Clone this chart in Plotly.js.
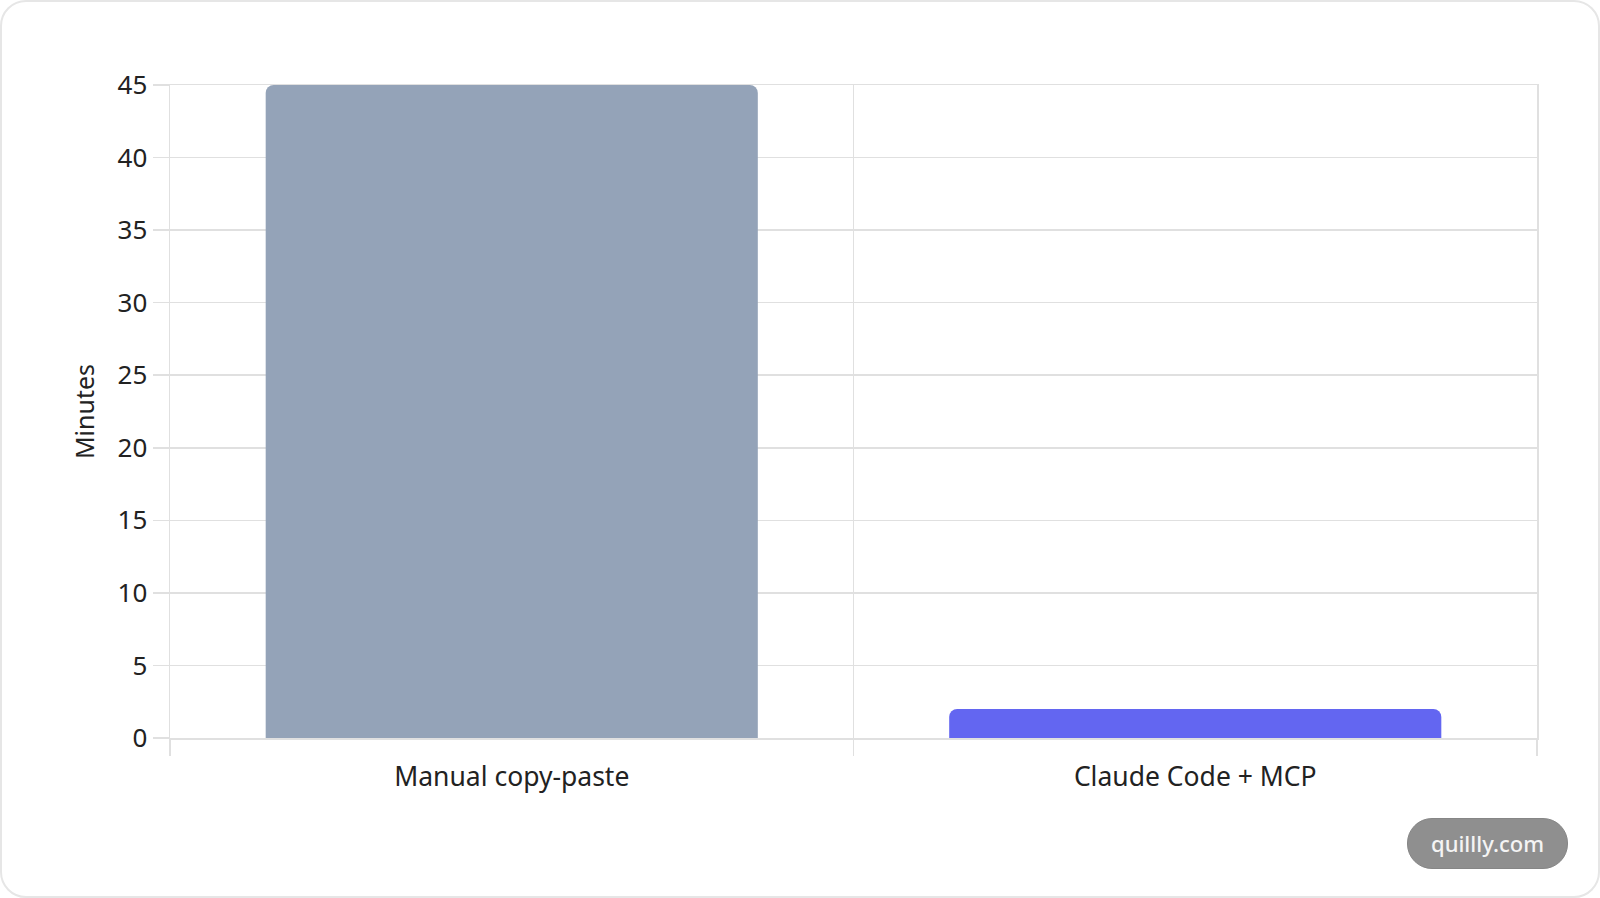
<!DOCTYPE html>
<html>
<head>
<meta charset="utf-8">
<script src="https://cdn.plot.ly/plotly-3.0.1.min.js"></script>
<style>
  html, body { margin: 0; padding: 0; background: #ffffff; }
  #card {
    position: relative;
    width: 1600px;
    height: 898px;
    box-sizing: border-box;
    border: 2px solid #e6e6e6;
    border-radius: 26px;
    background: #ffffff;
    overflow: hidden;
  }
  #plot { position: absolute; left: -2px; top: -2px; width: 1600px; height: 898px; }
  #badge {
    position: absolute;
    left: 1405px;
    top: 816px;
    width: 159px;
    height: 49px;
    border-radius: 25px;
    background: #8f8f8f;
    border: 1px solid #868686;
    color: #f4f4f4;
    font: 500 22px "Noto Sans", sans-serif;
    line-height: 49px;
    text-align: center;
  }
</style>
</head>
<body>
<div id="card">
  <div id="plot"></div>
  <div id="badge">quillly.com</div>
</div>
<script>
  var categories = ["Manual copy-paste", "Claude Code + MCP"];
  var minutes = [45, 2];
  var barColors = ["#94a3b8", "#6366f1"];
  var yTicks = [0, 5, 10, 15, 20, 25, 30, 35, 40, 45];

  var FONT = "Noto Sans, Open Sans, sans-serif";
  var GRID = "#e0e0e0";
  var TEXT = "#222222";

  var traces = [{
    type: "bar",
    x: categories,
    y: minutes,
    marker: {
      color: barColors,
      line: { width: 0 },
      cornerradius: 8
    },
    hoverinfo: "skip",
    showlegend: false
  }];

  var layout = {
    width: 1600,
    height: 898,
    margin: { l: 170, r: 63, t: 85, b: 160 },
    paper_bgcolor: "rgba(0,0,0,0)",
    plot_bgcolor: "rgba(0,0,0,0)",
    bargap: 0.28,
    font: { family: FONT, color: TEXT },
    showlegend: false,

    /* Ticks und Gitter auf den Kategoriegrenzen, Box über mirror */
    xaxis: {
      type: "category",
      range: [-0.5, 1.5],
      tickson: "boundaries",
      ticks: "outside",
      ticklen: 16,
      tickwidth: 1.5,
      tickcolor: GRID,
      showgrid: true,
      gridcolor: GRID,
      gridwidth: 1.5,
      showline: true,
      linecolor: GRID,
      linewidth: 1.5,
      mirror: true,
      zeroline: false,
      tickfont: { size: 26.5, color: TEXT },
      ticklabelstandoff: 15
    },

    yaxis: {
      range: [0, 45],
      tickmode: "array",
      tickvals: yTicks,
      ticktext: yTicks.map(String),
      ticks: "outside",
      ticklen: 16,
      tickwidth: 1.5,
      tickcolor: GRID,
      showgrid: true,
      gridcolor: GRID,
      gridwidth: 1.5,
      showline: true,
      linecolor: GRID,
      linewidth: 1.5,
      mirror: true,
      zeroline: false,
      tickfont: { size: 26, color: TEXT },
      ticklabelstandoff: 0,
      title: {
        text: "Minutes",
        font: { size: 25, color: TEXT },
        standoff: 16
      }
    }
  };

  Plotly.newPlot("plot", traces, layout, { staticPlot: true, displayModeBar: false });
</script>
</body>
</html>
